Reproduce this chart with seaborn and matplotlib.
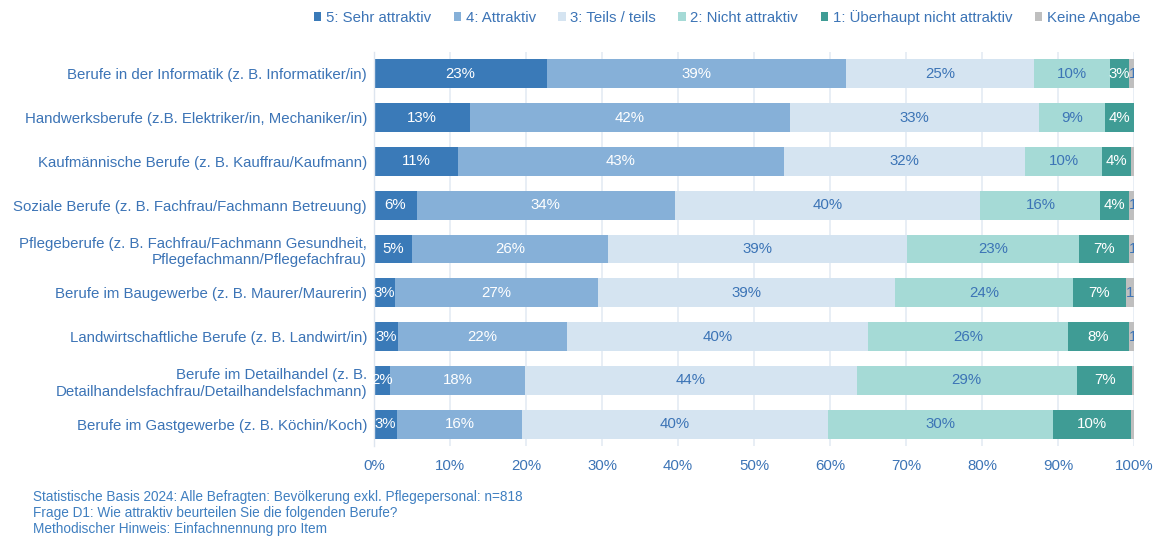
import matplotlib
matplotlib.use("Agg")
import matplotlib.pyplot as plt
from matplotlib.patches import Patch
import seaborn as sns
import pandas as pd
import numpy as np

categories = [
    "Berufe in der Informatik (z. B. Informatiker/in)",
    "Handwerksberufe (z.B. Elektriker/in, Mechaniker/in)",
    "Kaufmännische Berufe (z. B. Kauffrau/Kaufmann)",
    "Soziale Berufe (z. B. Fachfrau/Fachmann Betreuung)",
    "Pflegeberufe (z. B. Fachfrau/Fachmann Gesundheit,\nPflegefachmann/Pflegefachfrau)",
    "Berufe im Baugewerbe (z. B. Maurer/Maurerin)",
    "Landwirtschaftliche Berufe (z. B. Landwirt/in)",
    "Berufe im Detailhandel (z. B.\nDetailhandelsfachfrau/Detailhandelsfachmann)",
    "Berufe im Gastgewerbe (z. B. Köchin/Koch)",
]

series_names = ["5: Sehr attraktiv", "4: Attraktiv", "3: Teils / teils",
                "2: Nicht attraktiv", "1: Überhaupt nicht attraktiv", "Keine Angabe"]

sehr_attraktiv = [22.8, 12.6, 11.0, 5.6, 5.0, 2.7, 3.2, 2.1, 3.0]
attraktiv = [39.3, 42.1, 42.9, 34.0, 25.8, 26.8, 22.2, 17.8, 16.5]
teils = [24.7, 32.8, 31.8, 40.2, 39.4, 39.0, 39.6, 43.6, 40.2]
nicht_attraktiv = [10.0, 8.7, 10.1, 15.8, 22.6, 23.5, 26.3, 29.0, 29.6]
ueberhaupt_nicht = [2.6, 3.8, 3.8, 3.7, 6.6, 6.9, 8.1, 7.3, 10.3]
keine_angabe = [0.6, 0.0, 0.4, 0.7, 0.6, 1.1, 0.6, 0.2, 0.4]

x_ticks = [0, 10, 20, 30, 40, 50, 60, 70, 80, 90, 100]

colors = ["#3A7AB8", "#86B0D8", "#D5E4F1", "#A5DAD6", "#3F9C95", "#BFBFBF"]
label_colors = ["white", "white", "#3C74B6", "#3C74B6", "white", "#3C74B6"]
text_blue = "#3C74B6"

series = [sehr_attraktiv, attraktiv, teils, nicht_attraktiv, ueberhaupt_nicht, keine_angabe]
vals = np.array(series)
cum = np.cumsum(vals, axis=0)

sns.set_theme(style="white")
plt.rcParams["font.family"] = ["Liberation Sans", "DejaVu Sans"]

FS = 10.8

fig = plt.figure(figsize=(11.63, 5.38), dpi=100)
ax = fig.add_axes([0.3216, 0.171, 0.975 - 0.3216, 0.9033 - 0.171])

# draw stacked bars: widest cumulative first
for i in range(len(series) - 1, -1, -1):
    df = pd.DataFrame({"cat": categories, "val": cum[i]})
    sns.barplot(data=df, y="cat", x="val", orient="h", color=colors[i],
                width=0.66, saturation=1, ax=ax, zorder=2, linewidth=0)

ax.set_xlim(0, 100)
ax.set_xticks(x_ticks)
ax.set_xticklabels([f"{t}%" for t in x_ticks])
ax.set_yticks(np.arange(len(categories)))
ax.set_yticklabels(categories, linespacing=1.25)
ax.set_xlabel("")
ax.set_ylabel("")
ax.grid(axis="x", color="#E4EBF4", linewidth=1.2, zorder=0)
ax.set_axisbelow(True)
for s in ["top", "right", "bottom"]:
    ax.spines[s].set_visible(False)
ax.spines["left"].set_color("#DDE5EF")
ax.spines["left"].set_linewidth(1.0)
ax.tick_params(axis="both", length=0, colors=text_blue, labelsize=FS)
ax.tick_params(axis="y", pad=5)
ax.tick_params(axis="x", pad=9)

# segment labels
for i in range(len(series)):
    for j in range(len(categories)):
        v = vals[i, j]
        r = int(round(v))
        if r < 1:
            continue
        start = cum[i, j] - v
        if i == len(series) - 1:
            ax.text(start, j, f"{r}%", ha="left", va="center", fontsize=FS,
                    color=label_colors[i], clip_on=True, zorder=5)
        else:
            ax.text(start + v / 2, j, f"{r}%", ha="center", va="center",
                    fontsize=FS, color=label_colors[i], zorder=5)

handles = [Patch(facecolor=c, edgecolor="none", label=n) for c, n in zip(colors, series_names)]
fig.legend(handles=handles, loc="upper right", bbox_to_anchor=(0.992, 1.007), ncol=6,
           frameon=False, fontsize=FS, handlelength=0.5, handleheight=0.5,
           handletextpad=0.3, columnspacing=1.5, labelcolor=text_blue)

foot = ["Statistische Basis 2024: Alle Befragten: Bevölkerung exkl. Pflegepersonal: n=818",
        "Frage D1: Wie attraktiv beurteilen Sie die folgenden Berufe?",
        "Methodischer Hinweis: Einfachnennung pro Item"]
for k, line in enumerate(foot):
    fig.text(33 / 1163, 1 - (497 + 16 * k) / 538, line, ha="left", va="center",
             fontsize=9.8, color="#3F7FC0")

fig.savefig("out.png", dpi=100)
